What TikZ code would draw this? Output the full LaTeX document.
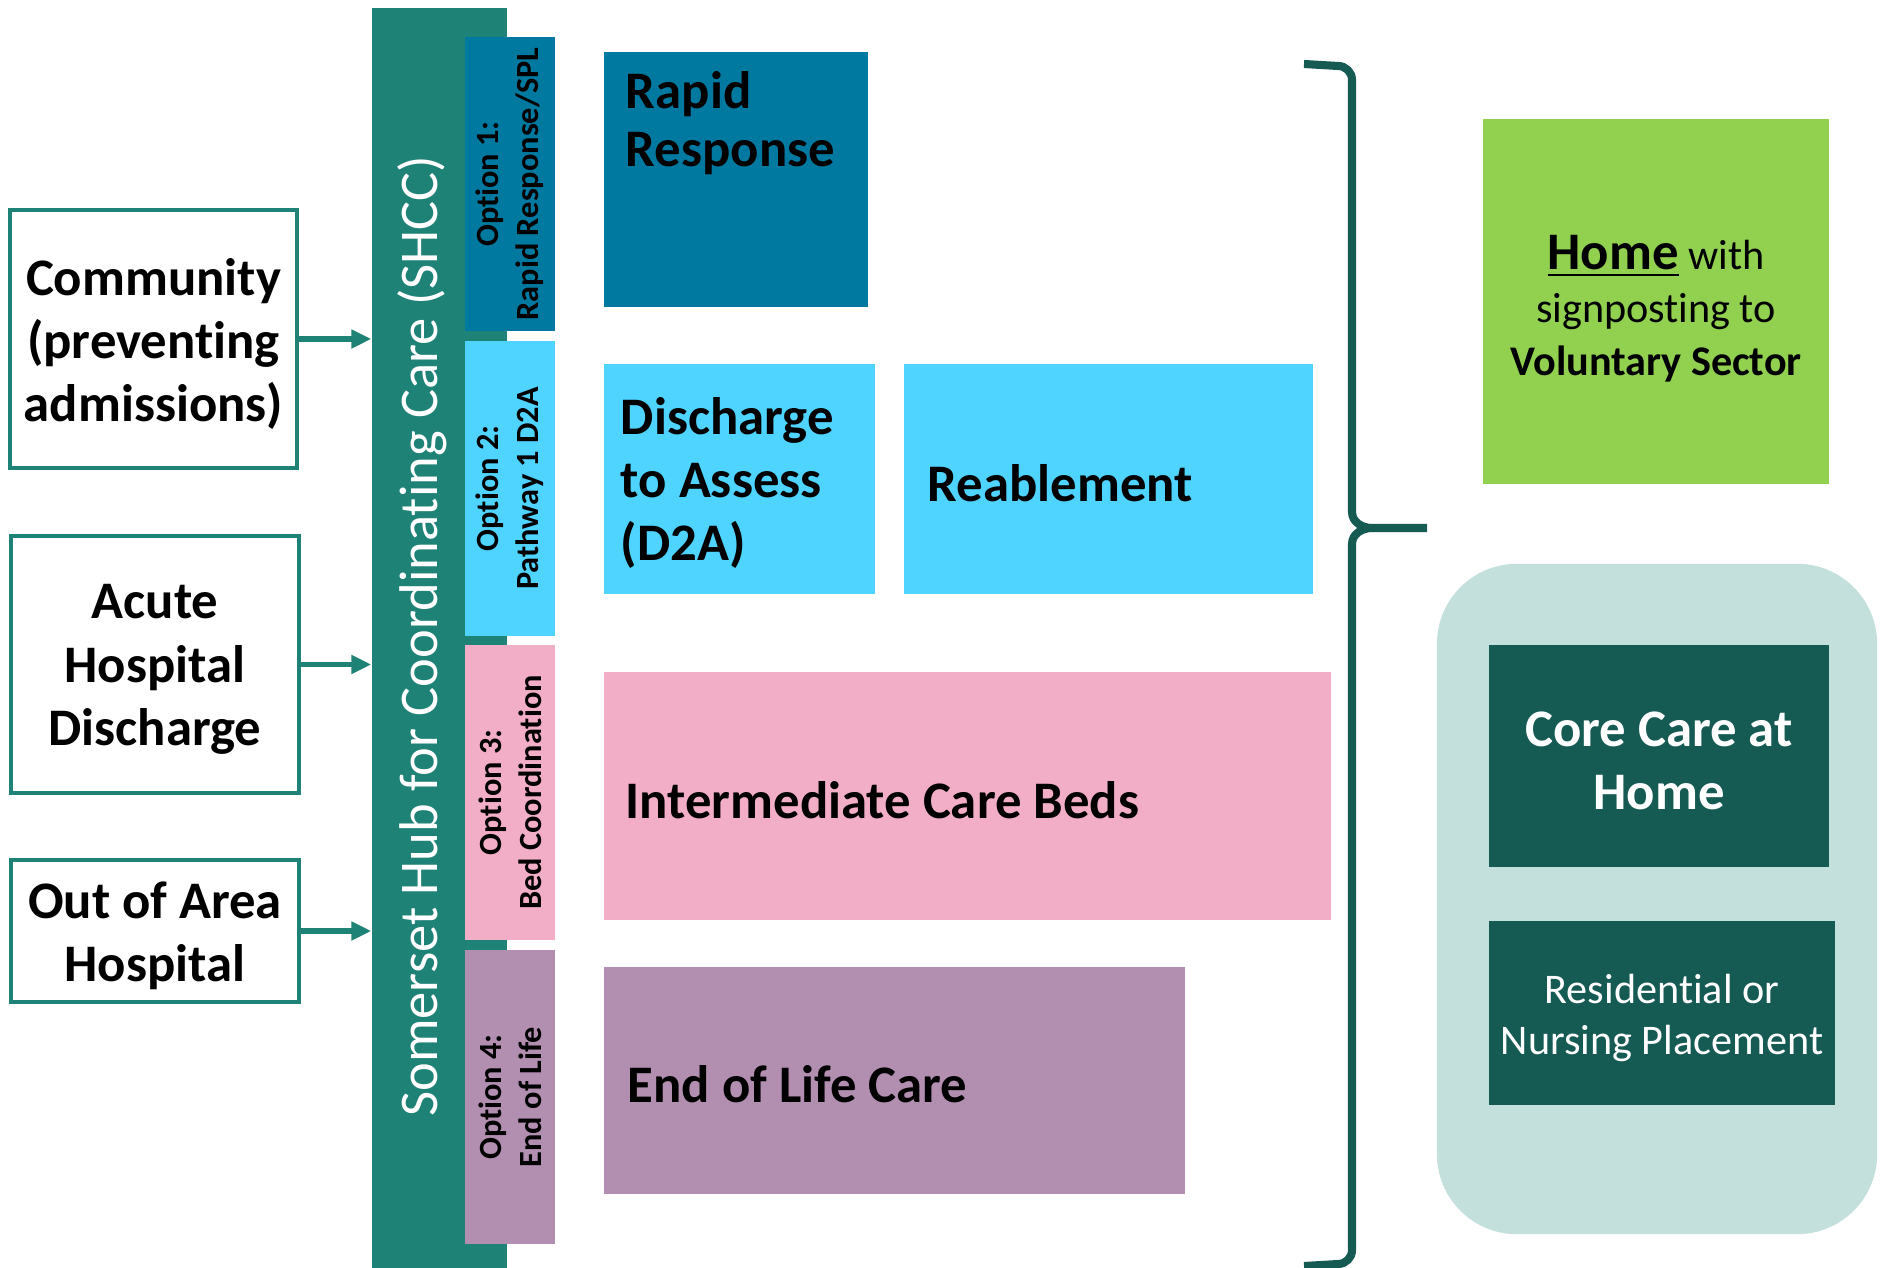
\documentclass[tikz,border=0pt]{standalone}
\usepackage{fontspec}
\setmainfont{Carlito}[Ligatures=NoCommon]
\usetikzlibrary{arrows.meta,positioning}
\definecolor{hub}{HTML}{1F8276}
\definecolor{rr}{HTML}{0079A0}
\definecolor{lblue}{HTML}{4FD3FF}
\definecolor{pink}{HTML}{F2AEC6}
\definecolor{purp}{HTML}{B28EB0}
\definecolor{lgreen}{HTML}{92D050}
\definecolor{pale}{HTML}{C4E0DD}
\definecolor{dteal}{HTML}{165A54}
\newcommand{\bigbf}{\fontsize{15}{18}\selectfont\bfseries}
\newcommand{\tabfont}{\fontsize{9.2}{11.3}\selectfont\bfseries}
\newcommand{\midfont}{\fontsize{12}{14.5}\selectfont}

\begin{document}
\begin{tikzpicture}[x=0.01cm,y=-0.01cm]
\tikzstyle{every node}=[inner sep=0pt]
\tikzstyle{src}=[draw=hub,line width=1.1pt,fill=white,minimum width=2.87cm]
\tikzstyle{lbl}=[align=center,font=\bigbf,yshift=-0.05cm]
\tikzstyle{tab}=[minimum width=0.9cm,minimum height=2.94cm]
\tikzstyle{tabtxt}=[rotate=90,align=center,font=\tabfont]
\tikzstyle{txt}=[align=left,font=\bigbf,yshift=-0.04cm]
\tikzstyle{arr}=[draw=hub,line width=1.5pt,-{Triangle[length=0.2cm,width=0.18cm]}]
\useasboundingbox (0,0) rectangle (1883,1268);

\node[fill=hub,minimum width=1.35cm,minimum height=12.6cm] (hub) at (439.5,638) {};
\node[rotate=90,text=white,font=\fontsize{15.5}{18}\selectfont] (hubtxt) at (422,636) {Somerset Hub for Coordinating Care (SHCC)};

\node[tab,fill=rr] (t1) at (510,184) {};
\node[tab,fill=lblue] (t2) at (510,488.5) {};
\node[tab,fill=pink] (t3) at (510,792.5) {};
\node[tab,fill=purp] (t4) at (510,1097) {};
\node[tabtxt] at (t1) {Option 1:\\Rapid Response/SPL};
\node[tabtxt] at (t2) {Option 2:\\Pathway 1 D2A};
\node[tabtxt] at (t3) {Option 3:\\Bed Coordination};
\node[tabtxt] at (t4) {Option 4:\\End of Life};

\node[fill=rr,minimum width=2.64cm,minimum height=2.55cm] (rapid) at (736,179.5) {};
\node[fill=lblue,minimum width=2.71cm,minimum height=2.3cm] (d2a) at (739.5,479) {};
\node[fill=lblue,minimum width=4.09cm,minimum height=2.3cm] (reab) at (1108.5,479) {};
\node[fill=pink,minimum width=7.27cm,minimum height=2.48cm] (icb) at (967.5,796) {};
\node[fill=purp,minimum width=5.81cm,minimum height=2.27cm] (eol) at (894.5,1080.5) {};
\node[align=left,font=\fontsize{15}{16.3}\selectfont\bfseries,below right=0.2cm and 0.22cm of rapid.north west] (rapidtxt) {Rapid\\Response};
\node[txt,right=0.17cm of d2a.west] (d2atxt) {Discharge\\to Assess\\(D2A)};
\node[txt,right=0.24cm of reab.west] (reabtxt) {Reablement};
\node[txt,right=0.22cm of icb.west] (icbtxt) {Intermediate Care Beds};
\node[txt,right=0.24cm of eol.west] (eoltxt) {End of Life Care};

\node[src,minimum height=2.58cm] (comm) at (153.5,339) {};
\node[src,minimum height=2.57cm] (acute) at (155,664.5) {};
\node[src,minimum height=1.42cm] (ooa) at (155,931) {};
\node[lbl] (commtxt) at (comm) {Community\\(preventing\\admissions)};
\node[lbl] (acutetxt) at (acute) {Acute\\Hospital\\Discharge};
\node[lbl] (ooatxt) at (ooa) {Out of Area\\Hospital};
\draw[arr] (comm.east) -- (comm.east -| hub.west);
\draw[arr] (acute.east) -- (acute.east -| hub.west);
\draw[arr] (ooa.east) -- (ooa.east -| hub.west);

\coordinate (tip) at (1427,528);
\draw[dteal,line width=2.3pt] (1304,64) -- (1338,66) to[out=0,in=90] (1352,80) -- (1352,512) to[out=-90,in=180] (1372,528) -- (tip);
\draw[dteal,line width=2.3pt] (1372,528) to[out=180,in=90] (1352,544) -- (1352,1250) to[out=-90,in=0] (1338,1264) -- (1304,1266);

\node[fill=lgreen,minimum width=3.46cm,minimum height=3.65cm] (home) at (1656,301.5) {};
\node[align=center,font=\fontsize{12}{15}\selectfont,yshift=-0.07cm] (hometxt) at (home)
  {{\fontsize{15}{18}\selectfont\bfseries\underline{Home}} with\\signposting to\\\textbf{Voluntary Sector}};
\node[fill=pale,rounded corners=0.8cm,minimum width=4.4cm,minimum height=6.7cm] (rest) at (1657,899) {};
\node[fill=dteal,minimum width=3.4cm,minimum height=2.22cm] (core) at (1659,756) {};
\node[fill=dteal,minimum width=3.46cm,minimum height=1.84cm] (resid) at (1662,1013) {};
\node[lbl,text=white] (coretxt) at (core) {Core Care at\\Home};
\node[lbl,text=white,font=\midfont] (residtxt) at (resid) {Residential or\\Nursing Placement};
\end{tikzpicture}
\end{document}
